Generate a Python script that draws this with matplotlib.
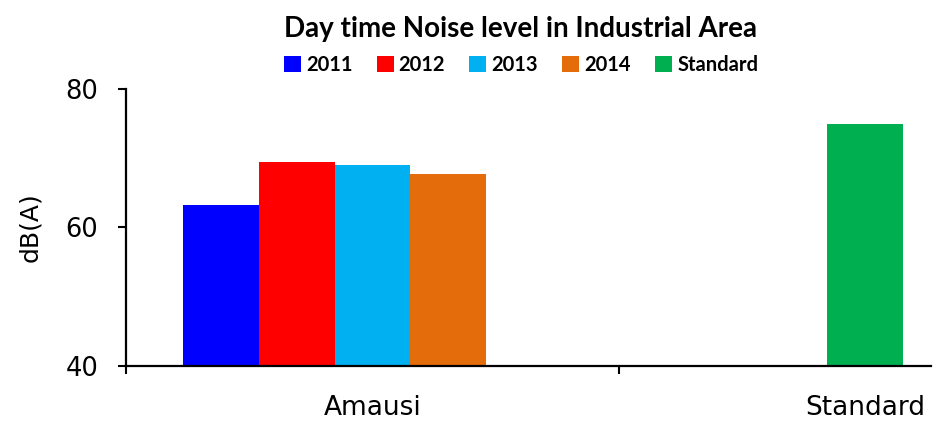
from matplotlib import pyplot as plt
import numpy as np

# data
categories = ['Amausi', 'Standard']
years = ['2011', '2012', '2013', '2014']
amausi_db = [63.2, 69.4, 69.0, 67.7]
standard_db = 75.0
year_colors = ['#0000FF', '#FF0000', '#00B0F0', '#E46C0A']
standard_color = '#00B050'

plt.rcParams['font.family'] = ['DejaVu Sans']

fig = plt.figure(figsize=(9.37, 4.28), dpi=100)
ax = fig.add_axes([0.1345, 0.145, 0.859, 0.647])

x = np.arange(len(categories))
w = 0.154
# Excel-like cluster of 5 slots, Amausi uses the first four
for i, (yr, val, col) in enumerate(zip(years, amausi_db, year_colors)):
    ax.bar(x[0] + (i - 2) * w, val - 40, bottom=40, width=w, color=col, label=yr)
ax.bar(x[1], standard_db - 40, bottom=40, width=w, color=standard_color, label='Standard')

ax.set_ylim(40, 80)
ax.set_xlim(-0.5, 1.133)
ax.set_yticks([40, 60, 80])
ax.tick_params(axis='y', labelsize=18.5, length=6, width=1.5, pad=14)
ax.set_xticks([-0.5, 0.5])
ax.set_xticklabels(['', ''])
ax.tick_params(axis='x', which='major', length=6, width=1.5)
ax.set_xticks(x, minor=True)
ax.set_xticklabels(categories, minor=True)
ax.tick_params(axis='x', which='minor', length=0, labelsize=19, pad=21)

ax.set_ylabel('dB(A)', fontsize=18)
ax.yaxis.set_label_coords(-0.104, 0.5)

for s in ['top', 'right']:
    ax.spines[s].set_visible(False)
for s in ['left', 'bottom']:
    ax.spines[s].set_linewidth(1.6)
    ax.spines[s].set_color('black')

fig.text(0.556, 0.932, 'Day time Noise level in Industrial Area', ha='center', va='center',
         fontsize=20, fontweight='bold', family='Lato')

fig.legend(loc='center', bbox_to_anchor=(0.556, 0.849), ncol=5, frameon=False,
           prop={'family': 'Lato', 'weight': 'bold', 'size': 14.5},
           handlelength=0.85, handleheight=0.85, handletextpad=0.25, columnspacing=1.2)

plt.savefig('out.png', dpi=100)
